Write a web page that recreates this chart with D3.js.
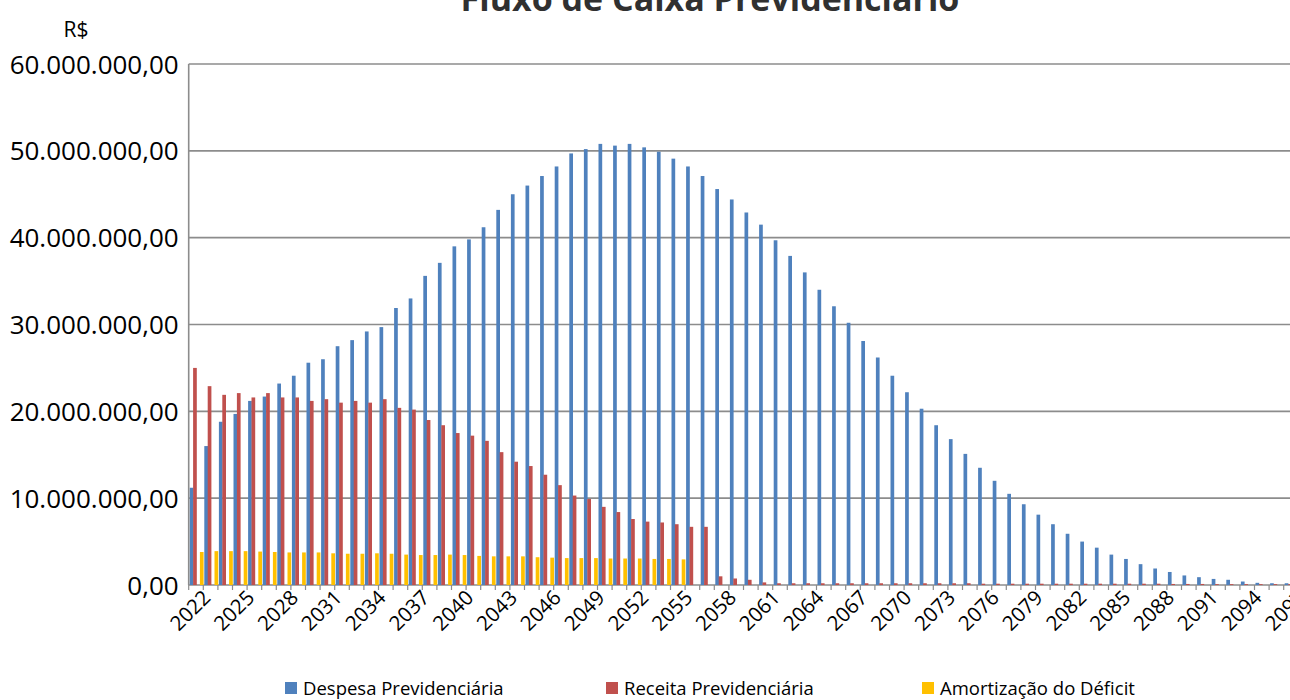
<!DOCTYPE html>
<html>
<head>
<meta charset="utf-8">
<script src="https://cdn.jsdelivr.net/npm/d3@7"></script>
<style>
  html, body { margin: 0; padding: 0; background: #fff; }
  svg { display: block; font-family: "Open Sans", "Noto Sans", sans-serif; }
</style>
</head>
<body>
<svg id="chart" width="1290" height="700"></svg>
<script>
// ---------------- DATA ----------------
const years = [2022,2023,2024,2025,2026,2027,2028,2029,2030,2031,
  2032,2033,2034,2035,2036,2037,2038,2039,2040,2041,
  2042,2043,2044,2045,2046,2047,2048,2049,2050,2051,
  2052,2053,2054,2055,2056,2057,2058,2059,2060,2061,
  2062,2063,2064,2065,2066,2067,2068,2069,2070,2071,
  2072,2073,2074,2075,2076,2077,2078,2079,2080,2081,
  2082,2083,2084,2085,2086,2087,2088,2089,2090,2091,
  2092,2093,2094,2095,2096,2097];

// values in millions of R$
const despesa = [11.2,16.0,18.8,19.7,21.2,21.7,23.2,24.1,25.6,26.0,
  27.5,28.2,29.2,29.7,31.9,33.0,35.6,37.1,39.0,39.8,
  41.2,43.2,45.0,46.0,47.1,48.2,49.7,50.2,50.8,50.6,
  50.8,50.4,49.9,49.1,48.2,47.1,45.6,44.4,42.9,41.5,
  39.7,37.9,36.0,34.0,32.1,30.2,28.1,26.2,24.1,22.2,
  20.3,18.4,16.8,15.1,13.5,12.0,10.5,9.3,8.1,7.0,
  5.9,5.0,4.3,3.5,3.0,2.4,1.9,1.5,1.1,0.9,
  0.7,0.6,0.4,0.25,0.2,0.2];

const receita = [25.0,22.9,21.9,22.1,21.6,22.1,21.6,21.6,21.2,21.4,
  21.0,21.2,21.0,21.4,20.4,20.2,19.0,18.4,17.5,17.2,
  16.6,15.3,14.2,13.7,12.7,11.5,10.3,9.9,9.0,8.4,
  7.6,7.3,7.2,7.0,6.7,6.7,1.0,0.75,0.6,0.3,
  0.2,0.2,0.2,0.2,0.2,0.2,0.2,0.2,0.2,0.2,
  0.2,0.2,0.2,0.2,0.15,0.15,0.15,0.15,0.15,0.15,
  0.15,0.15,0.15,0.15,0.15,0.15,0.15,0.12,0.12,0.12,
  0.1,0.1,0.1,0.1,0.1,0.1];

const amortizacao = [3.8,3.9,3.9,3.9,3.85,3.8,3.75,3.75,3.75,3.65,
  3.6,3.6,3.65,3.6,3.5,3.45,3.45,3.5,3.45,3.35,
  3.3,3.3,3.3,3.2,3.15,3.1,3.1,3.1,3.05,3.05,
  3.05,3.0,3.0,2.95,0,0,0,0,0,0,
  0,0,0,0,0,0,0,0,0,0,
  0,0,0,0,0,0,0,0,0,0,
  0,0,0,0,0,0,0,0,0,0,
  0,0,0,0,0,0];

const seriesNames = ["Despesa Previdenciária", "Receita Previdenciária", "Amortização do Déficit"];
const seriesColors = ["#4F81BD", "#C0504D", "#FFC000"];
const yTicks = [0, 10, 20, 30, 40, 50, 60];
const labelYears = [2022,2025,2028,2031,2034,2037,2040,2043,2046,2049,2052,2055,2058,2061,2064,2067,2070,2073,2076,2079,2082,2085,2088,2091,2094,2097];
const titleText = "Fluxo de Caixa Previdenciário";
const unitText = "R$";

// ---------------- CHART ----------------
const svg = d3.select("#chart");
svg.append("rect").attr("width", 1290).attr("height", 700).attr("fill", "#fff");

const plot = { left: 188.7, right: 1298.3, top: 64, bottom: 585 };

const x = d3.scaleBand().domain(years).range([plot.left, plot.right]).paddingInner(0).paddingOuter(0);
// 4 slots per category: blue, red, (empty), yellow
const slots = ["s0", "s1", "gap", "s2"];
const xi = d3.scaleBand().domain(slots).range([1.0, x.bandwidth()]).padding(0);
const y = d3.scaleLinear().domain([0, 60]).range([plot.bottom, plot.top]);

const locale = d3.formatLocale({ decimal: ",", thousands: ".", grouping: [3], currency: ["R$", ""] });
const fmt = locale.format(",.2f");

// gridlines
svg.append("g").selectAll("line").data(yTicks).join("line")
  .attr("x1", plot.left).attr("x2", plot.right)
  .attr("y1", d => y(d)).attr("y2", d => y(d))
  .attr("stroke", "#8c8c8c").attr("stroke-width", 1.6);

// bars
const series = [despesa, receita, amortizacao];
const seriesSlot = ["s0", "s1", "s2"];
series.forEach((vals, si) => {
  svg.append("g").selectAll("rect").data(years.map((yr, i) => ({ yr, v: vals[i] })))
    .join("rect")
    .attr("x", d => x(d.yr) + xi(seriesSlot[si]))
    .attr("width", xi.bandwidth() + 0.3)
    .attr("y", d => y(d.v))
    .attr("height", d => y(0) - y(d.v))
    .attr("fill", seriesColors[si]);
});

// y axis line
svg.append("line").attr("x1", plot.left).attr("x2", plot.left)
  .attr("y1", plot.top).attr("y2", plot.bottom)
  .attr("stroke", "#8c8c8c").attr("stroke-width", 1.6);

// x tick marks at category boundaries
svg.append("g").selectAll("line").data(years.concat([null])).join("line")
  .attr("x1", d => d === null ? plot.right : x(d))
  .attr("x2", d => d === null ? plot.right : x(d))
  .attr("y1", plot.bottom).attr("y2", plot.bottom + 5)
  .attr("stroke", "#8c8c8c").attr("stroke-width", 1.2);

// y axis labels
const yAxis = d3.axisLeft(y).tickValues(yTicks).tickSize(0).tickPadding(0)
  .tickFormat(d => fmt(d * 1e6));
const gy = svg.append("g").attr("transform", `translate(${plot.left - 10},0)`).call(yAxis);
gy.select(".domain").remove();
gy.selectAll("text").attr("font-size", 26).attr("fill", "#000")
  .attr("font-family", "'Open Sans', sans-serif").attr("dy", "0.35em");

// x axis labels
const xAxis = d3.axisBottom(x).tickValues(labelYears).tickSize(0).tickPadding(0);
const gx = svg.append("g").attr("transform", `translate(0,${plot.bottom + 3})`).call(xAxis);
gx.select(".domain").remove();
gx.selectAll("text")
  .attr("font-size", 20.5).attr("fill", "#000")
  .attr("font-family", "'Open Sans', sans-serif")
  .attr("text-anchor", "end")
  .attr("dy", "0.75em")
  .attr("transform", "translate(5,0) rotate(-45)")
  .attr("y", 0).attr("x", 0);

// title (partly cut off at the top, as in the source picture)
svg.append("text").attr("x", 710).attr("y", 11)
  .attr("text-anchor", "middle").attr("font-size", 34).attr("font-weight", "bold")
  .attr("fill", "#303030").text(titleText);

// unit label
svg.append("text").attr("x", 76).attr("y", 37).attr("text-anchor", "middle")
  .attr("font-size", 21).attr("fill", "#000").text(unitText);

// legend
const legendX = [285, 606, 922];
const lg = svg.append("g");
seriesNames.forEach((name, i) => {
  lg.append("rect").attr("x", legendX[i]).attr("y", 682).attr("width", 12).attr("height", 12)
    .attr("fill", seriesColors[i]);
  lg.append("text").attr("x", legendX[i] + 18).attr("y", 695)
    .attr("font-size", 18.5).attr("fill", "#000").text(name);
});
</script>
</body>
</html>
